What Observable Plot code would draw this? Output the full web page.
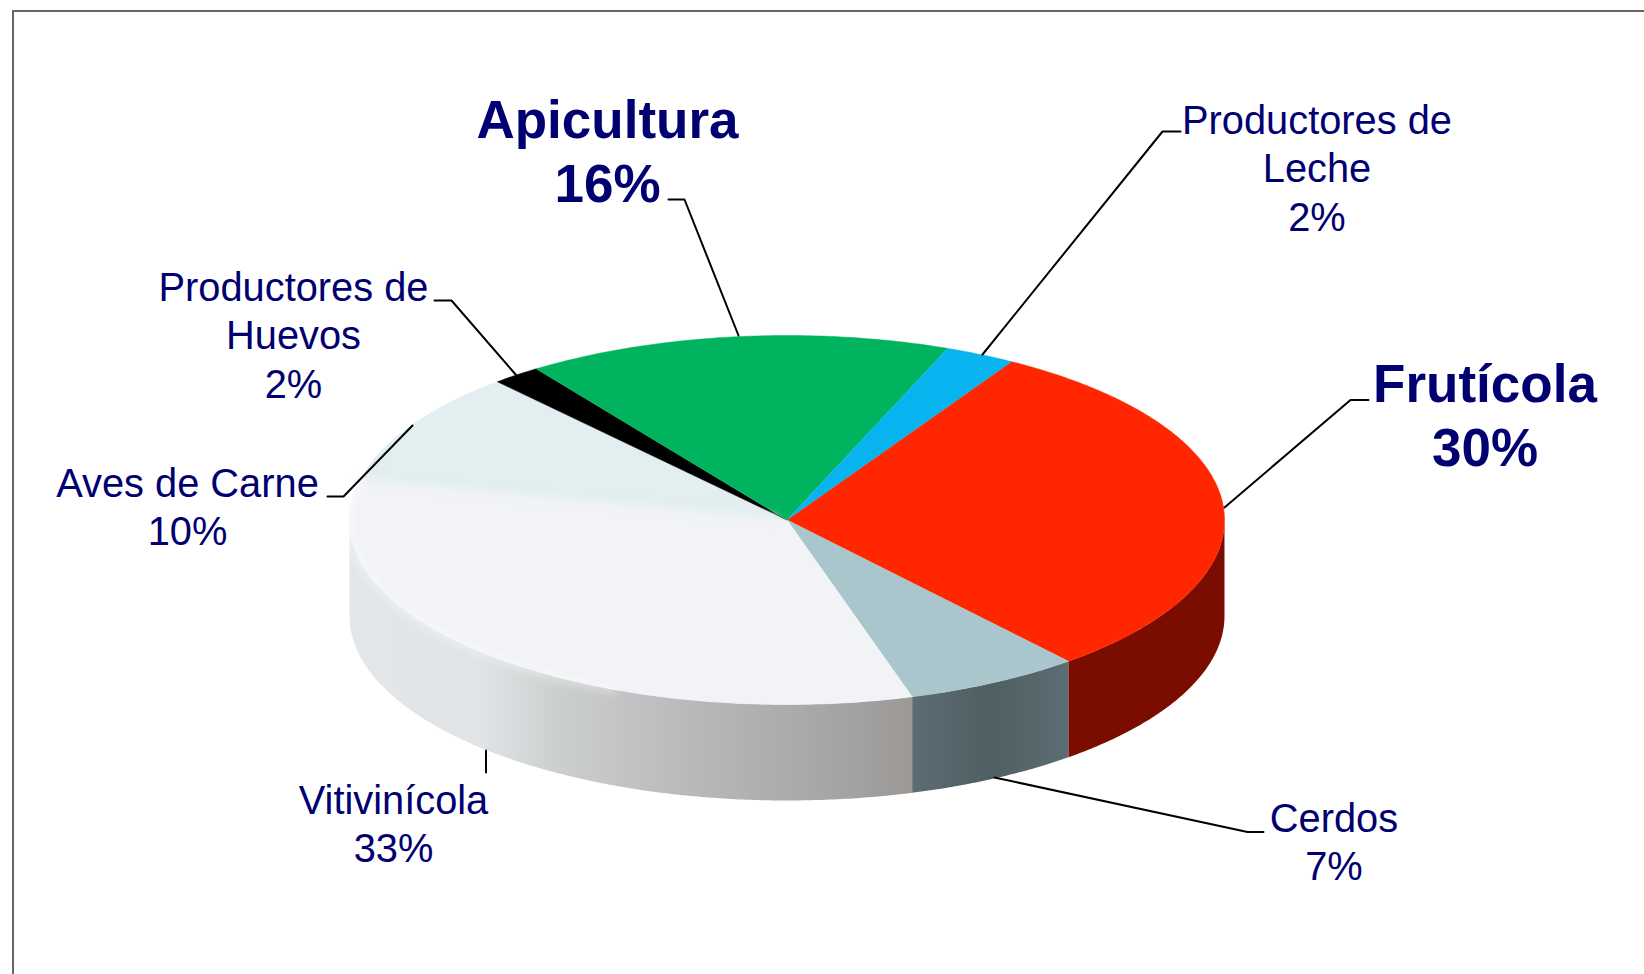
<!DOCTYPE html>
<html><head><meta charset="utf-8">
<style>html,body{margin:0;padding:0;background:#fff;overflow:hidden}svg{display:block}</style>
<script src="https://cdn.jsdelivr.net/npm/d3@7"></script>
<script src="https://cdn.jsdelivr.net/npm/@observablehq/plot@0.6"></script>
</head><body><script>
// Data
const categories = ["Frutícola","Cerdos","Vitivinícola","Aves de Carne","Productores de Huevos","Apicultura","Productores de Leche"];
const sliceShares = [30.3,6.5,33.1,10,1.8,15.7,2.6];   // slice size
const shownPercent = [30,7,33,10,2,16,2];              // printed in the labels
const labelLines = [["Frutícola"],["Cerdos"],["Vitivinícola"],["Aves de Carne"],["Productores de","Huevos"],["Apicultura"],["Productores de","Leche"]];
const emphasised = ["Frutícola","Apicultura"];

// Styles
const topColors = ["#FF2600","#A9C6CC","#F2F3F6","#E2EEF0","#000000","#00B35F","#08B4EF"];
const sideColors = ["#7A0C00","url(#sideCerdos)","url(#sideViti)"];
const navy = "#000070";

// Layout
const W = 1644, H = 974;
const cx = 786.5, cy = 519.5, rx = 437.5, ry = 184.5, depth = 96, startAngle = 30.9;
const labelX = [1484.5,1333.5,393,187,293,607,1316.5];
const labelBaseline = [393.5,825.5,807,490.5,294.5,129.5,127.5];
const leaders = [
  [[1368,399.5],[1350,399.5],[1224,507]],
  [[1263,831.5],[1247,831.5],[994,777]],
  [[485.5,772],[485.5,750]],
  [[327,496],[343,496],[412,425]],
  [[434,300],[451,300],[516,375]],
  [[668,199],[684,199],[738,335]],
  [[1180,131],[1162,131],[982,354]]
];

// Geometry from the shares
const deg = sliceShares.map(v => v / d3.sum(sliceShares) * 360);
let acc = startAngle;
const slices = categories.map((name,i) => { const a0 = acc; acc += deg[i]; return {name,i,a0,a1:acc}; });
const pt = (a,dz=0) => { const t = a*Math.PI/180; return {x:cx+rx*Math.sin(t), y:cy-ry*Math.cos(t)+dz}; };
const arc = (a0,a1,dz=0) => { const n = Math.max(2,Math.ceil(Math.abs(a1-a0)*2)); return d3.range(n+1).map(k => pt(a0+(a1-a0)*k/n,dz)); };
const topPoly = s => [{x:cx,y:cy},...arc(s.a0,s.a1)];
const sidePoly = (a0,a1) => [...arc(a0,a1),...arc(a1,a0,depth)];

// Gradients for the shaded wall
const defs = (index,scales,values,dims,context) => {
  const doc = context.document, ns = "http://www.w3.org/2000/svg";
  const d = doc.createElementNS(ns,"defs");
  const grad = (id,stops) => {
    const g = doc.createElementNS(ns,"linearGradient"); g.setAttribute("id",id);
    for (const [o,c] of stops) { const s = doc.createElementNS(ns,"stop"); s.setAttribute("offset",o); s.setAttribute("stop-color",c); g.appendChild(s); }
    d.appendChild(g);
  };
  grad("sideViti",[[0,"#E4E7E9"],[.23,"#E0E4E6"],[.38,"#CBCECE"],[.58,"#BBBBBC"],[.9,"#A2A2A2"],[1,"#9C9895"]]);
  grad("sideCerdos",[[0,"#5C6C72"],[.5,"#4F5F64"],[1,"#5C6E73"]]);
  return d;
};

const sides = slices.slice(0,3).map((s,i) => Plot.line(sidePoly(Math.max(s.a0,90),Math.min(s.a1,270)),{x:"x",y:"y",fill:sideColors[i],stroke:"none"}));
const tops = slices.map(s => Plot.line(topPoly(s),{x:"x",y:"y",fill:topColors[s.i],stroke:topColors[s.i],strokeWidth:.5}));
const viti = slices[2];
const softening = [
  Plot.line([pt(viti.a1),{x:cx-12,y:cy-2}],{x:"x",y:"y",stroke:"#EBF1F3",strokeWidth:6,imageFilter:"blur(3px)"}),
  Plot.line(arc(viti.a0+40,viti.a1+2),{x:"x",y:"y",stroke:"#FFFFFF",strokeWidth:7,strokeOpacity:.45,imageFilter:"blur(4px)"})
];
const leaderMarks = leaders.map(l => Plot.line(l.map(([x,y])=>({x,y})),{x:"x",y:"y",stroke:"#000",strokeWidth:2}));

const labels = categories.map((name,i) => ({
  text:[...labelLines[i],shownPercent[i]+"%"].join("\n"), x:labelX[i], base:labelBaseline[i], bold:emphasised.includes(name)
}));
const textMark = (rows,size,lead,weight) => Plot.text(rows,{x:"x",y:d=>d.base-0.71*size,text:"text",lineAnchor:"top",textAnchor:"middle",
  fontSize:size,lineHeight:lead/size,fontWeight:weight,fontFamily:"Liberation Sans",fill:navy});

const chart = Plot.plot({
  width:W,height:H,margin:0,
  x:{domain:[0,W],range:[0,W],axis:null},
  y:{domain:[0,H],range:[0,H],axis:null},
  marks:[
    defs,
    Plot.ruleY([10.5],{x1:12,x2:W,stroke:"#666",strokeWidth:2}),
    Plot.ruleX([12.5],{y1:10,y2:H,stroke:"#666",strokeWidth:2}),
    ...sides,
    ...tops,
    ...softening,
    ...leaderMarks,
    textMark(labels.filter(d=>!d.bold),39.8,48.3,"normal"),
    textMark(labels.filter(d=>d.bold),53,64,"bold")
  ]
});
chart.style.background="#fff";
document.body.appendChild(chart);
</script></body></html>
